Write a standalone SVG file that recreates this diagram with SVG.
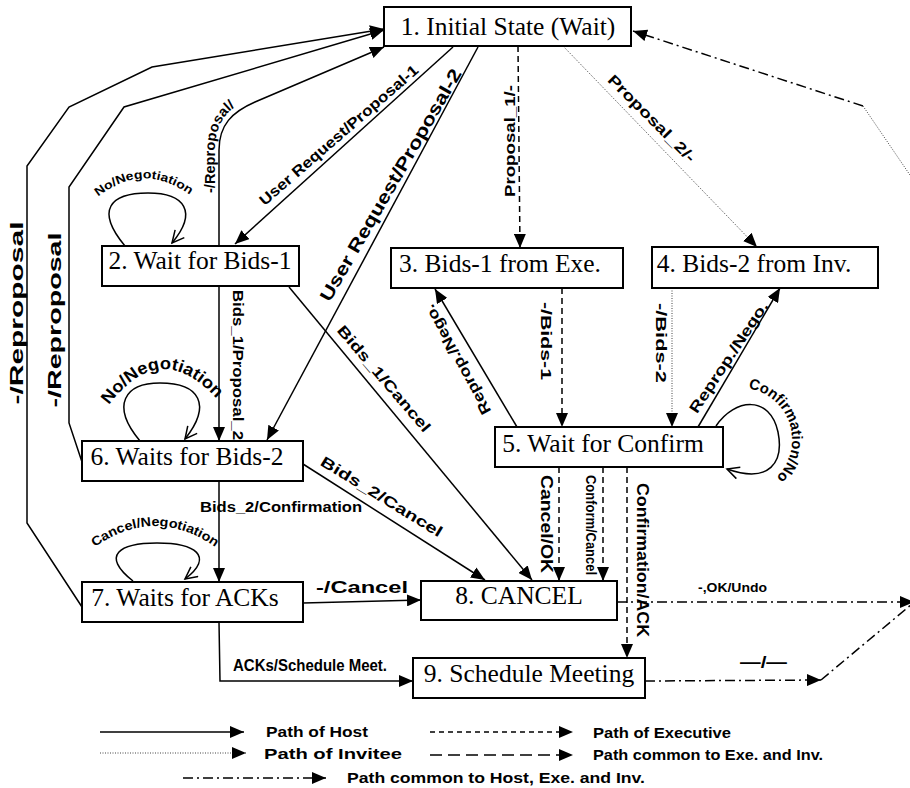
<svg xmlns="http://www.w3.org/2000/svg" width="910" height="788" viewBox="0 0 910 788">
<style>
.box{fill:#fff;stroke:#000;stroke-width:2}
.nt{font-family:"Liberation Serif","Times New Roman",serif;font-size:25.5px;text-anchor:middle;fill:#000}
.el{font-family:"Liberation Sans",Arial,sans-serif;font-weight:bold;font-size:14px;fill:#000}
.lg{font-size:15px}
.m{text-anchor:middle}
.ln{fill:none;stroke:#000;stroke-width:1.5}
.da{stroke-dasharray:6 4}
.ld{stroke-dasharray:12 6}
.dt{stroke:#444;stroke-width:1;stroke-dasharray:1 1.5}
.dd{stroke-dasharray:10 4 2 4}
</style>
<defs>
<marker id="a" markerUnits="userSpaceOnUse" markerWidth="14" markerHeight="12" refX="14" refY="6" orient="auto"><path d="M0,0 L14,6 L0,12 z" fill="#000"/></marker>
<marker id="o" markerUnits="userSpaceOnUse" markerWidth="16" markerHeight="14" refX="13" refY="7" orient="auto"><path d="M1,1 L13,7 L1,13" fill="none" stroke="#000" stroke-width="1.5"/></marker>
<path id="p_rep" d="M215,196 L215,150 C215,124 226,109 250,98"/>
<path id="p_nn2" d="M94,200 Q143,158 194,198"/>
<path id="p_nn6" d="M104,412 Q160,330 222,405"/>
<path id="p_cn7" d="M88,552 Q155,500 222,552"/>
<path id="p_cf5" d="M744.5,388.1 A52,52 0 0 1 773.4,479.8"/>
</defs>

<g id="connectors">
  <!-- host paths -->
  <path class="ln" d="M219,246 L219,150 C219,125 232,112 255,102 L384,47" marker-end="url(#a)"/>
  <path class="ln" d="M453,47 L235,244" marker-end="url(#a)"/>
  <path class="ln" d="M478,47 L267,440" marker-end="url(#a)"/>
  <path class="ln" d="M219,286 L219,441" marker-end="url(#a)"/>
  <path class="ln" d="M289,287 L532,580" marker-end="url(#a)"/>
  <path class="ln" d="M303,464 L485,580" marker-end="url(#a)"/>
  <path class="ln" d="M219,481 L219,582" marker-end="url(#a)"/>
  <path class="ln" d="M303,603 L421,600" marker-end="url(#a)"/>
  <path class="ln" d="M219,622 L220,681 L413,681" marker-end="url(#a)"/>
  <path class="ln" d="M82,607 L27,523 L27,166 L69,107 L152,67 L384,29" marker-end="url(#a)"/>
  <path class="ln" d="M82,462 L69,423 L69,187 L124,107 L384,30" marker-end="url(#a)"/>
  <path class="ln" d="M517,427 L435,289" marker-end="url(#a)"/>
  <path class="ln" d="M698,427 L780,288" marker-end="url(#a)"/>
  <!-- self loops -->
  <path class="ln" d="M125,246 C95,210 110,193 148,193 C185,193 198,212 172,243" marker-end="url(#o)"/>
  <path class="ln" d="M140,441 C110,405 125,383 160,383 C200,383 212,405 185,439" marker-end="url(#o)"/>
  <path class="ln" d="M133,581 C100,555 120,543 157,543 C195,543 215,556 185,579" marker-end="url(#o)"/>
  <path class="ln" d="M716,426 C735,398 770,395 778,432 C784,462 770,484 727,469" marker-end="url(#o)"/>
  <!-- executive paths -->
  <path class="ln da" d="M518,46 L520,248" marker-end="url(#a)"/>
  <path class="ln da" d="M562,288 L562,427" marker-end="url(#a)"/>
  <path class="ln da" d="M559,467 L559,581" marker-end="url(#a)"/>
  <path class="ln da" d="M603,467 L603,581" marker-end="url(#a)"/>
  <path class="ln da" d="M627,467 L627,658" marker-end="url(#a)"/>
  <!-- invitee paths -->
  <path class="ln dt" d="M563,46 L757,247" marker-end="url(#a)"/>
  <path class="ln dt" d="M672,288 L672,427" marker-end="url(#a)"/>
  <path class="ln dt" d="M863,106 L912,178"/>
  <!-- common paths -->
  <path class="ln dd" d="M617,602 L914,602" marker-end="url(#a)"/>
  <path class="ln dd" d="M645,681 L821,680" marker-end="url(#a)"/>
  <path class="ln dd" d="M821,680 L912,604"/>
  <path class="ln dd" d="M863,106 L633,31" marker-end="url(#a)"/>

  <!-- connector labels -->
  <text class="el"><textPath href="#p_rep" startOffset="3" textLength="93" lengthAdjust="spacingAndGlyphs">-/Reproposal/</textPath></text>
  <text class="el m" style="font-size:15px" transform="translate(342,139) rotate(-41)" textLength="205" lengthAdjust="spacingAndGlyphs">User Request/Proposal-1</text>
  <text class="el m" style="font-size:18px" transform="translate(396,188) rotate(-60)" textLength="265" lengthAdjust="spacingAndGlyphs">User Request/Proposal-2</text>
  <text class="el m" transform="translate(233,365) rotate(90)" textLength="150" lengthAdjust="spacingAndGlyphs">Bids_1/Proposal_2</text>
  <text class="el m" style="font-size:15px" transform="translate(380,382) rotate(49.5)" textLength="135" lengthAdjust="spacingAndGlyphs">Bids_1/Cancel</text>
  <text class="el m" style="font-size:15px" transform="translate(379,501) rotate(31.5)" textLength="140" lengthAdjust="spacingAndGlyphs">Bids_2/Cancel</text>
  <text class="el" x="200" y="512" textLength="162" lengthAdjust="spacingAndGlyphs">Bids_2/Confirmation</text>
  <text class="el" style="font-size:17px" x="316" y="593" textLength="92" lengthAdjust="spacingAndGlyphs">-/Cancel</text>
  <text class="el" style="font-size:16px" x="233" y="671" textLength="154" lengthAdjust="spacingAndGlyphs">ACKs/Schedule Meet.</text>
  <text class="el m" style="font-size:18px" transform="translate(23,313) rotate(-90)" textLength="183" lengthAdjust="spacingAndGlyphs">-/Reproposal</text>
  <text class="el m" style="font-size:18px" transform="translate(61,320) rotate(-90)" textLength="175" lengthAdjust="spacingAndGlyphs">-/Reproposal</text>
  <text class="el m" style="font-size:15px" transform="translate(515,141) rotate(-90)" textLength="112" lengthAdjust="spacingAndGlyphs">Proposal_1/-</text>
  <text class="el m" style="font-size:15px" transform="translate(648,122) rotate(45)" textLength="117" lengthAdjust="spacingAndGlyphs">Proposal_2/-</text>
  <text class="el m" style="font-size:15px" transform="translate(541,341) rotate(90)" textLength="78" lengthAdjust="spacingAndGlyphs">-/Bids-1</text>
  <text class="el m" style="font-size:15px" transform="translate(656,343) rotate(90)" textLength="80" lengthAdjust="spacingAndGlyphs">-/Bids-2</text>
  <text class="el m" style="font-size:15px" transform="translate(462,357) rotate(-118.6)" textLength="123" lengthAdjust="spacingAndGlyphs">Reprop./Nego.</text>
  <text class="el m" style="font-size:15px" transform="translate(733,360) rotate(-56.5)" textLength="130" lengthAdjust="spacingAndGlyphs">Reprop./Nego.</text>
  <text class="el m" style="font-size:17px" transform="translate(541,524) rotate(90)" textLength="98" lengthAdjust="spacingAndGlyphs">Cancel/OK</text>
  <text class="el m" style="font-size:14px" transform="translate(586,525) rotate(90)" textLength="100" lengthAdjust="spacingAndGlyphs">Conform/Cancel</text>
  <text class="el m" style="font-size:17px" transform="translate(637,560) rotate(90)" textLength="154" lengthAdjust="spacingAndGlyphs">Confirmation/ACK</text>
  <text class="el" style="font-size:12px" x="698" y="592" textLength="69" lengthAdjust="spacingAndGlyphs">-,OK/Undo</text>
  <text class="el" style="font-size:16px" x="740" y="668" textLength="47" lengthAdjust="spacingAndGlyphs">—/—</text>
  <text class="el m" style="font-size:12px"><textPath href="#p_nn2" startOffset="50%" textLength="100" lengthAdjust="spacingAndGlyphs">No/Negotiation</textPath></text>
  <text class="el m" style="font-size:17px"><textPath href="#p_nn6" startOffset="50%" textLength="130" lengthAdjust="spacingAndGlyphs">No/Negotiation</textPath></text>
  <text class="el m" style="font-size:13px"><textPath href="#p_cn7" startOffset="50%" textLength="130" lengthAdjust="spacingAndGlyphs">Cancel/Negotiation</textPath></text>
  <text class="el m" style="font-size:15px"><textPath href="#p_cf5" startOffset="50%" textLength="115" lengthAdjust="spacingAndGlyphs">Confirmation/No</textPath></text>
</g>

<g id="n1"><rect class="box" x="384" y="7" width="247" height="39"/><text class="nt" x="508" y="35">1. Initial State (Wait)</text></g>
<g id="n2"><rect class="box" x="102" y="246" width="197" height="40"/><text class="nt" x="200" y="269">2. Wait for Bids-1</text></g>
<g id="n3"><rect class="box" x="391" y="248" width="232" height="40"/><text class="nt" x="500" y="272">3. Bids-1 from Exe.</text></g>
<g id="n4"><rect class="box" x="652" y="247" width="226" height="41"/><text class="nt" x="754" y="272">4. Bids-2 from Inv.</text></g>
<g id="n5"><rect class="box" x="495" y="427" width="228" height="40"/><text class="nt" x="603" y="452">5. Wait for Confirm</text></g>
<g id="n6"><rect class="box" x="82" y="441" width="221" height="40"/><text class="nt" x="187" y="465">6. Waits for Bids-2</text></g>
<g id="n7"><rect class="box" x="82" y="582" width="221" height="40"/><text class="nt" x="185" y="606">7. Waits for ACKs</text></g>
<g id="n8"><rect class="box" x="421" y="581" width="196" height="39"/><text class="nt" x="519" y="604">8. CANCEL</text></g>
<g id="n9"><rect class="box" x="413" y="658" width="232" height="40"/><text class="nt" x="529" y="682">9. Schedule Meeting</text></g>

<g id="legend">
  <path class="ln" d="M100,732 L244,732" marker-end="url(#a)"/>
  <text class="el lg" x="266" y="737" textLength="102" lengthAdjust="spacingAndGlyphs">Path of Host</text>
  <path class="ln da" style="stroke-dasharray:5 4" d="M430,732 L573,732" marker-end="url(#a)"/>
  <text class="el lg" x="593" y="738" textLength="138" lengthAdjust="spacingAndGlyphs">Path of Executive</text>
  <path class="ln dt" d="M100,753 L246,753" marker-end="url(#a)"/>
  <text class="el lg" x="264" y="759" textLength="138" lengthAdjust="spacingAndGlyphs">Path of Invitee</text>
  <path class="ln ld" d="M430,755 L573,755" marker-end="url(#a)"/>
  <text class="el lg" x="593" y="760" textLength="230" lengthAdjust="spacingAndGlyphs">Path common to Exe. and Inv.</text>
  <path class="ln dd" d="M183,778 L326,778" marker-end="url(#a)"/>
  <text class="el lg" x="347" y="783" textLength="298" lengthAdjust="spacingAndGlyphs">Path common to Host, Exe. and Inv.</text>
</g>
</svg>
